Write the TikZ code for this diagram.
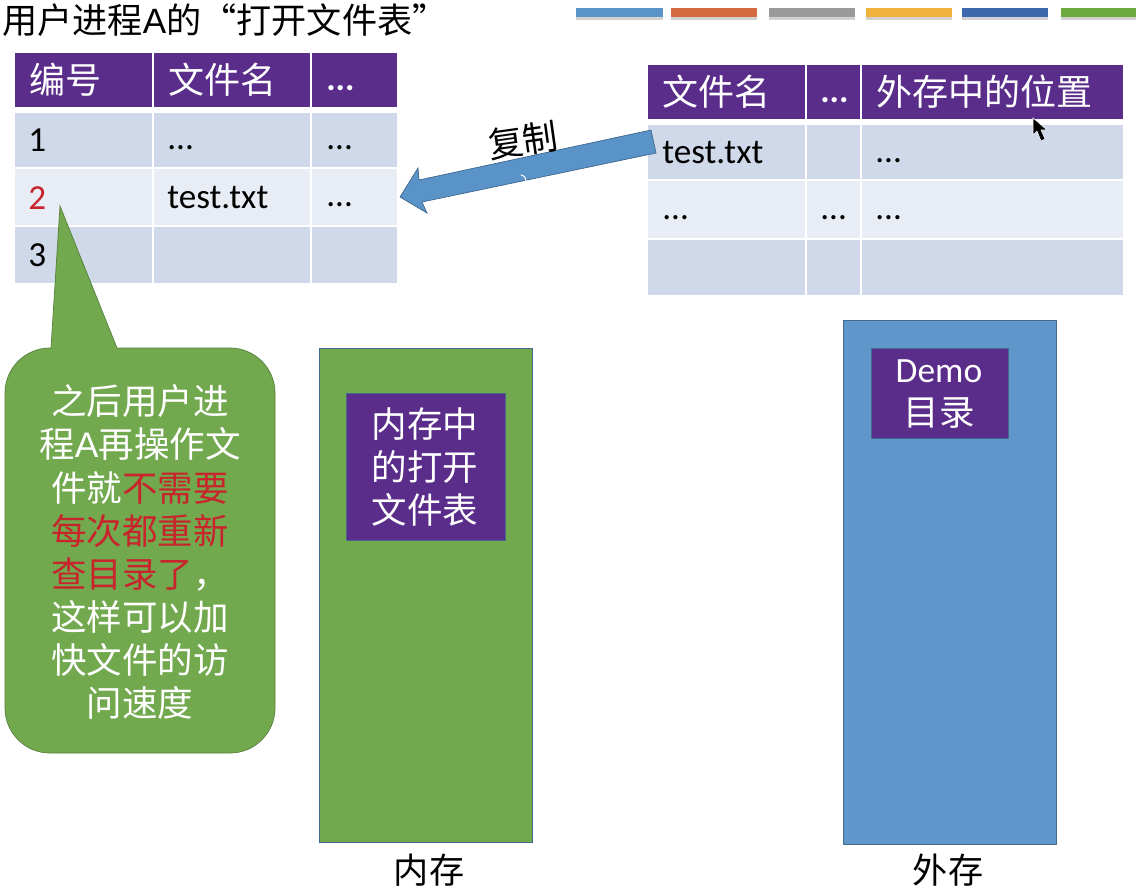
\documentclass[tikz,border=0pt]{standalone}
\usepackage{fontspec}
\setmainfont{Noto Sans CJK SC}
\newfontfamily\latinfont{Carlito}
\newfontfamily\arialfont{Liberation Sans}
\definecolor{headpurple}{HTML}{5B2D8B}
\definecolor{rowdark}{HTML}{CFD9E9}
\definecolor{rowlight}{HTML}{E8EDF5}
\definecolor{boxgreen}{HTML}{72A94E}
\definecolor{boxblue}{HTML}{5F97CA}
\definecolor{arrowblue}{HTML}{5A93C8}
\definecolor{hotred}{HTML}{C8242C}
\definecolor{barorange}{HTML}{D56B40}
\definecolor{bargray}{HTML}{9A9A9A}
\definecolor{baryellow}{HTML}{F2B33D}
\definecolor{bardeep}{HTML}{3C68AE}
\definecolor{bargreen}{HTML}{6BA93F}
\tikzset{
  headcell/.style={fill=headpurple},
  darkcell/.style={fill=rowdark},
  lightcell/.style={fill=rowlight},
  headtext/.style={text=white,anchor=west,inner sep=0pt,font=\fontsize{20.5}{24}\selectfont},
  headdots/.style={text=white,anchor=west,inner sep=0pt,font=\latinfont\bfseries\fontsize{20}{24}\selectfont},
  celltext/.style={text=black,anchor=west,inner sep=0pt,font=\latinfont\fontsize{20}{24}\selectfont},
  plainlabel/.style={text=black,inner sep=0pt,font=\fontsize{20}{24}\selectfont},
  boxtext/.style={text=white,inner sep=0pt,align=center,font=\fontsize{20.2}{24.5}\selectfont},
  barshadow/.style={fill=black,opacity=0.18}
}
\begin{document}
\begin{tikzpicture}[x=0.02cm,y=-0.02cm]
    \useasboundingbox (0,0) rectangle (1136,894);
    % colour bars
    \fill[barshadow] (576,11) rectangle (663,20);
    \fill[barshadow] (671,11) rectangle (757,20);
    \fill[barshadow] (769,11) rectangle (855,20);
    \fill[barshadow] (866,11) rectangle (952,20);
    \fill[barshadow] (962,11) rectangle (1048,20);
    \fill[barshadow] (1061,11) rectangle (1136,20);
    \fill[fill=arrowblue] (576,8) rectangle (663,17);
    \fill[fill=barorange] (671,8) rectangle (757,17);
    \fill[fill=bargray] (769,8) rectangle (855,17);
    \fill[fill=baryellow] (866,8) rectangle (952,17);
    \fill[fill=bardeep] (962,8) rectangle (1048,17);
    \fill[fill=bargreen] (1061,8) rectangle (1136,17);
    % title
    \node[plainlabel,anchor=west] (title) at (2,20) {用户进程{\arialfont A}的“打开文件表”};
    % process table
    \fill[headcell] (15,53) rectangle (152,107);
    \fill[headcell] (154,53) rectangle (310,107);
    \fill[headcell] (312,53) rectangle (397,107);
    \fill[darkcell] (15,113) rectangle (152,167);
    \fill[darkcell] (154,113) rectangle (310,167);
    \fill[darkcell] (312,113) rectangle (397,167);
    \fill[lightcell] (15,169) rectangle (152,225);
    \fill[lightcell] (154,169) rectangle (310,225);
    \fill[lightcell] (312,169) rectangle (397,225);
    \fill[darkcell] (15,227) rectangle (152,283);
    \fill[darkcell] (154,227) rectangle (310,283);
    \fill[darkcell] (312,227) rectangle (397,283);
    \node[headtext] (numhead) at (29,80) {编号};
    \node[headtext] (namehead) at (168,80) {文件名};
    \node[headdots] (morehead) at (326,88) {...};
    \node[celltext] (numone) at (28,140) {1};
    \node[celltext] (nameone) at (167,148) {...};
    \node[celltext] (moreone) at (326,148) {...};
    \node[celltext,text=hotred] (numtwo) at (28,198) {2};
    \node[celltext] (nametwo) at (167,198) {test.txt};
    \node[celltext] (moretwo) at (326,205) {...};
    \node[celltext] (numthree) at (28,255) {3};
    % directory table
    \fill[headcell] (648,65) rectangle (805,119);
    \fill[headcell] (807,65) rectangle (860,119);
    \fill[headcell] (862,65) rectangle (1123,119);
    \fill[darkcell] (648,125) rectangle (805,179);
    \fill[darkcell] (807,125) rectangle (860,179);
    \fill[darkcell] (862,125) rectangle (1123,179);
    \fill[lightcell] (648,181) rectangle (805,238);
    \fill[lightcell] (807,181) rectangle (860,238);
    \fill[lightcell] (862,181) rectangle (1123,238);
    \fill[darkcell] (648,240) rectangle (805,295);
    \fill[darkcell] (807,240) rectangle (860,295);
    \fill[darkcell] (862,240) rectangle (1123,295);
    \node[headtext] (dirname) at (662,92) {文件名};
    \node[headdots] (dirmore) at (820,100) {...};
    \node[headtext] (dirplace) at (876,92) {外存中的位置};
    \node[celltext] (dirfile) at (662,153) {test.txt};
    \node[celltext] (dirplaceone) at (875,161) {...};
    \node[celltext] (dirdotsa) at (662,218) {...};
    \node[celltext] (dirdotsb) at (820,218) {...};
    \node[celltext] (dirdotsc) at (875,218) {...};
    % copy arrow
    \filldraw[fill=arrowblue,draw=arrowblue!70!black,line width=0.4pt] (651,130) -- (656,153) -- (422,202) -- (427,213) -- (400,197) -- (418,168) -- (419,180) -- cycle;
    \draw[white,line width=0.6pt] (521,175) .. controls (525,176) and (526,178) .. (526,181);
    \node[plainlabel,rotate=8] (copylabel) at (523,140) {复制};
    % callout
    \filldraw[fill=boxgreen,draw=boxgreen!75!black,line width=0.4pt] (60,206) -- (117,348) -- (230,348) arc (-90:0:45) -- (275,708) arc (0:90:45) -- (50,753) arc (90:180:45) -- (5,393) arc (180:270:45) -- (51,348) -- cycle;
    \node[boxtext] (calloutnote) at (140,552) {之后用户进\\程{\arialfont A}再操作文\\件就\textcolor{hotred}{不需要}\\\textcolor{hotred}{每次都重新}\\\textcolor{hotred}{查目录了}，\\这样可以加\\快文件的访\\问速度};
    % memory and disk
    \filldraw[fill=boxgreen,draw=boxblue!70!black,line width=0.4pt] (319,348) rectangle (532,842);
    \filldraw[fill=boxblue,draw=boxblue!70!black,line width=0.4pt] (843,320) rectangle (1056,844);
    \filldraw[fill=headpurple,draw=boxblue!70!black,line width=0.3pt] (346,393) rectangle (505,540);
    \filldraw[fill=headpurple,draw=boxblue!70!black,line width=0.3pt] (871,348) rectangle (1008,438);
    \node[boxtext] (opentable) at (425,467) {内存中\\的打开\\文件表};
    \node[boxtext] (demodir) at (939,394) {{\latinfont Demo}\\目录};
    \node[plainlabel] (memlabel) at (429,870) {内存};
    \node[plainlabel] (disklabel) at (948,870) {外存};
    % mouse pointer
    \filldraw[fill=black,draw=white,line width=0.3pt] (1033,118) -- (1033,135) -- (1037,131) -- (1041,141) -- (1045,139) -- (1041,130) -- (1047,130) -- cycle;
\end{tikzpicture}
\end{document}
